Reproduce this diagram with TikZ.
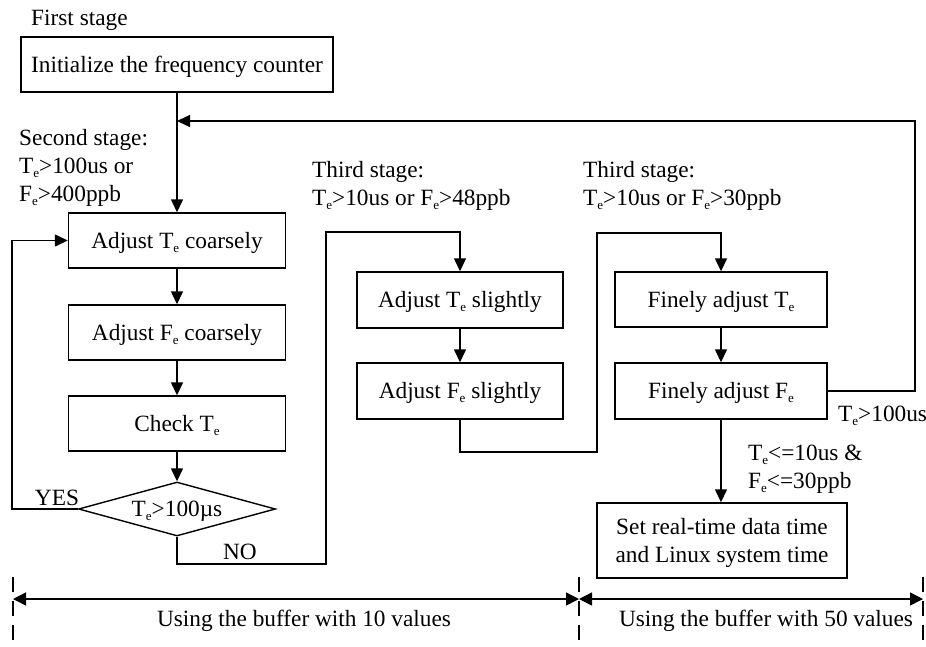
\documentclass[tikz,border=0pt]{standalone}
\usepackage{fontspec}
\setmainfont{Liberation Serif}
\usetikzlibrary{arrows.meta,shapes.geometric}
\newcommand\sbe{\raisebox{-4pt}{\fontsize{13}{13}\selectfont e}}
\newcommand\Tsub{T\sbe}
\newcommand\Fsub{F\sbe}
\begin{document}
\begin{tikzpicture}[x=1pt,y=-1pt,
  every node/.style={font=\fontsize{23.3}{28}\selectfont},
  proc/.style={draw,line width=1.4pt,minimum width=217pt,minimum height=55pt,inner sep=0pt,text height=15.5pt,text depth=0pt},
  decis/.style={draw,line width=1.4pt,diamond,aspect=3.65,minimum width=197pt,minimum height=54pt,inner sep=0pt,text height=15.5pt,text depth=0pt},
  lbl/.style={inner sep=0pt,align=left},
  conn/.style={line width=1.4pt},
  arr/.style={conn,-{Triangle[length=13pt,width=12pt]}},
  darr/.style={conn,{Triangle[length=13pt,width=13pt]}-{Triangle[length=13pt,width=13pt]}},
  guide/.style={line width=1.2pt,dash pattern=on 15pt off 9pt},
]
\useasboundingbox (0,0) rectangle (926,646);

% labels (base anchor = baseline of last line)
\node[lbl,anchor=base west] (first) at (31,25) {First stage};
\node[lbl,anchor=base west] (stwo) at (19,201) {Second stage:\\\Tsub>100us or\\\Fsub>400ppb};
\node[lbl,anchor=base west] (sthreea) at (312,205) {Third stage:\\\Tsub>10us or \Fsub>48ppb};
\node[lbl,anchor=base west] (sthreeb) at (583,205) {Third stage:\\\Tsub>10us or \Fsub>30ppb};

% boxes
\node[proc,minimum width=312pt] (init) at (177,64.5) {Initialize the frequency counter};
\coordinate (j) at (177,121);
\node[proc] (adjTc) at (177,240.5) {Adjust \Tsub{} coarsely};
\node[proc] (adjFc) at (177,332.5) {Adjust \Fsub{} coarsely};
\node[proc] (chk) at (177,423.5) {Check \Tsub};
\node[decis] (dia) at (177,509) {\Tsub>100µs};

\node[proc,minimum width=206pt,minimum height=56pt] (adjTs) at (460,300) {Adjust \Tsub{} slightly};
\node[proc,minimum width=206pt,minimum height=56pt] (adjFs) at (460,391) {Adjust \Fsub{} slightly};

\node[proc,minimum width=212pt] (finTe) at (721,299.5) {Finely adjust \Tsub};
\node[proc,minimum width=212pt,minimum height=56pt] (finFe) at (721,391) {Finely adjust \Fsub};
\node[draw,line width=1.4pt,minimum width=250pt,minimum height=75pt,inner sep=0pt,align=center,text depth=0pt] (setb) at (722,540.5) {Set real-time data time\\and Linux system time};

% connector labels
\node[lbl,anchor=base] (yes) at (57,505) {YES};
\node[lbl,anchor=base] (no) at (240,559) {NO};
\node[lbl,anchor=base west] (tgt) at (838,421) {\Tsub>100us};
\node[lbl,anchor=base west] (cond) at (748,488) {\Tsub<=10us \&\\\Fsub<=30ppb};

% connectors
\draw[conn] (init.south) -- (j);
\draw[arr] (j) -- (adjTc.north);
\draw[arr] (adjTc.south) -- (adjFc.north);
\draw[arr] (adjFc.south) -- (chk.north);
\draw[arr] (chk.south) -- (dia.north);
\draw[arr] (dia.west) -- (12,509) |- (adjTc.west);
\draw[arr] (dia.south) -- (177,564) -- (326,564) -- (326,232) -| (adjTs.north);
\draw[arr] (adjTs.south) -- (adjFs.north);
\draw[arr] (adjFs.south) -- (460,452) -- (597,452) -- (597,233) -| (finTe.north);
\draw[arr] (finTe.south) -- (finFe.north);
\draw[arr] (finFe.east) -- (915,391) -- (915,121) -- (j);
\draw[arr] (finFe.south) -- (finFe.south |- setb.north);

% buffer ranges
\coordinate (ga) at (13,599);
\coordinate (gb) at (579,599);
\coordinate (gc) at (923,599);
\draw[guide] (13,577) -- (13,646);
\draw[guide] (579,577) -- (579,646);
\draw[guide] (923,577) -- (923,646);
\draw[darr] (ga) -- (gb);
\draw[darr] (gb) -- (gc);
\node[lbl,anchor=base] (bufa) at (304,626) {Using the buffer with 10 values};
\node[lbl,anchor=base] (bufb) at (766,626) {Using the buffer with 50 values};
\end{tikzpicture}
\end{document}
